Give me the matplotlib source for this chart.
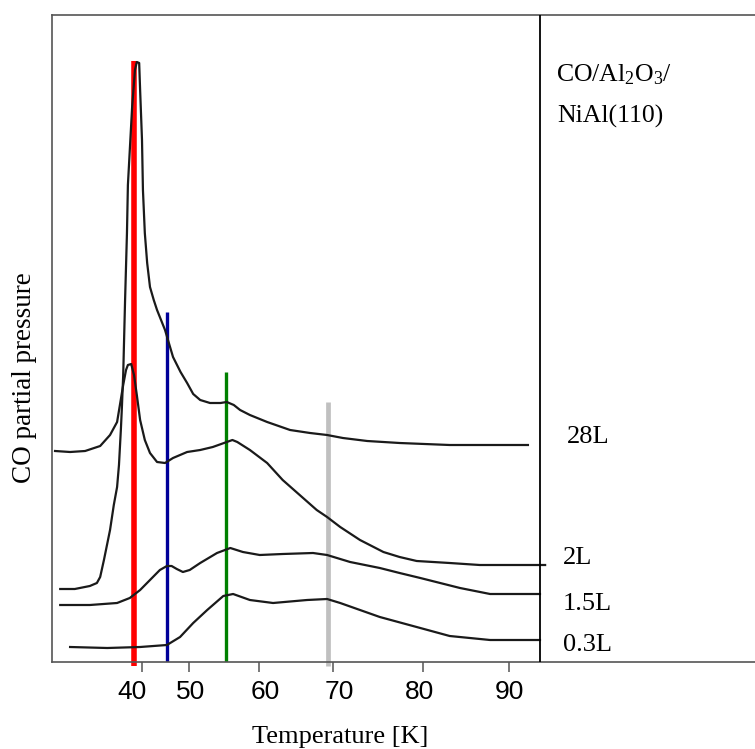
import numpy as np
import matplotlib
matplotlib.use("Agg")
import matplotlib.pyplot as plt
from matplotlib.transforms import ScaledTranslation

plt.rcParams["font.family"] = ["Liberation Serif", "DejaVu Serif"]
plt.rcParams["mathtext.fontset"] = "custom"
plt.rcParams["mathtext.rm"] = "Liberation Serif"
plt.rcParams["mathtext.it"] = "Liberation Serif:italic"

# ---- TPD traces (temperature in K, CO partial pressure in arb. units, offset per dose)
t_28L = [22.6, 25.7, 28.9, 30.4, 31.1, 31.9, 33.2, 34.0, 34.7, 35.1, 35.5, 35.7, 36.0,
         36.4, 36.8, 37.0, 37.9, 38.5, 38.9, 39.4, 39.6, 40.0, 40.2, 40.6, 41.1, 41.7,
         42.5, 43.2, 44.9, 46.6, 48.2, 49.6, 50.6, 51.6, 53.0, 54.5, 55.4, 56.4, 57.3,
         58.7, 61.1, 64.2, 66.9, 69.2, 71.1, 73.8, 77.4, 83.1, 92.2]
s_28L = [73, 73, 76, 79, 85, 102, 132, 157, 175, 197, 232, 252, 287,
         362, 429, 477, 555, 592, 600, 599, 572, 522, 472, 429, 399, 375,
         362, 352, 332, 305, 290, 279, 268, 262, 259, 259, 260, 257, 252,
         247, 240, 232, 229, 227, 224, 221, 219, 217, 217]

t_2L = [21.5, 24.7, 27.9, 31.1, 33.2, 34.7, 35.3, 36.0, 36.6, 37.0, 37.7, 38.3, 38.9,
        39.6, 40.6, 41.7, 43.2, 44.9, 46.6, 49.6, 51.6, 53.4, 55.4, 56.2, 56.9, 58.7,
        61.1, 63.2, 65.5, 67.8, 69.2, 70.8, 73.0, 75.6, 77.4, 79.3, 83.1, 86.6, 94.2]
s_2L = [211, 210, 211, 216, 227, 240, 257, 277, 292, 297, 298, 287, 267,
        242, 222, 209, 200, 199, 204, 210, 212, 215, 220, 222, 220, 212,
        199, 182, 167, 152, 145, 135, 122, 110, 105, 101, 99, 97, 97]

t_15L = [22.6, 28.9, 34.7, 37.4, 39.6, 41.7, 43.8, 45.3, 46.3, 47.4, 48.7, 50.1, 51.6,
         54.0, 55.9, 57.7, 60.1, 63.2, 67.3, 69.2, 71.9, 75.2, 77.4, 79.7, 84.3, 87.8,
         93.6]
s_15L = [57, 57, 59, 64, 72, 82, 92, 96, 96, 93, 90, 92, 99,
         109, 114, 110, 107, 108, 109, 107, 100, 94, 89, 84, 74, 68,
         68]

t_03L = [24.7, 32.6, 39.6, 45.3, 48.1, 50.6, 52.6, 54.9, 56.3, 58.7, 61.9, 66.5, 69.2,
         70.8, 75.2, 79.7, 83.1, 87.8, 93.6]
s_03L = [15, 14, 15, 17, 25, 39, 52, 66, 68, 62, 59, 62, 63,
         59, 45, 34, 26, 22, 22]

dose_labels = ["28L", "2L", "1.5L", "0.3L"]

# ---- desorption-feature markers
marker_temps = [38.4, 45.4, 55.3, 69.3]
marker_tops = [601, 350, 290, 260]
marker_colors = ["#ff0000", "#000099", "#008000", "#c0c0c0"]

# ---- temperature axis calibration (heating ramp is not linear in T)
tick_temps = [40, 50, 60, 70, 80, 90]
tick_pos = [142, 189, 259, 333, 423, 509]
knot_T = np.array([0.0] + tick_temps + [200.0])
knot_P = np.array([142 - 40 * 4.7] + tick_pos + [509 + 110 * 8.6])


def forward(t):
    return np.interp(t, knot_T, knot_P)


def inverse(p):
    return np.interp(p, knot_P, knot_T)


fig = plt.figure(figsize=(7.55, 7.49), dpi=100)
W, H = 755, 749
ax = fig.add_axes([52 / W, (H - 662) / H, (W - 52) / W, (662 - 15) / H])
ax.set_xscale("function", functions=(forward, inverse))
ax.set_xlim(inverse(52), inverse(755))
ax.set_ylim(0, 647)

# feature markers (behind the traces)
ax.vlines(marker_temps[0], -4, marker_tops[0], color=marker_colors[0], lw=4.0,
          clip_on=False, zorder=1, capstyle="butt")
ax.vlines(marker_temps[1], 0, marker_tops[1], color=marker_colors[1], lw=2.4,
          zorder=1, capstyle="butt")
ax.vlines(marker_temps[2], 0, marker_tops[2], color=marker_colors[2], lw=2.4,
          zorder=1, capstyle="butt")
ax.vlines(marker_temps[3], -4, marker_tops[3], color=marker_colors[3], lw=3.4,
          clip_on=False, zorder=1, capstyle="butt")

for t, s in [(t_28L, s_28L), (t_2L, s_2L), (t_15L, s_15L), (t_03L, s_03L)]:
    ax.plot(t, s, color="#1a1a1a", lw=1.6, zorder=2, solid_joinstyle="round")

# panel divider
ax.axvline(inverse(540), color="black", lw=1.3, zorder=3)

for side in ["left", "top", "bottom"]:
    ax.spines[side].set_color("#555555")
    ax.spines[side].set_linewidth(1.2)
ax.spines["right"].set_visible(False)

ax.set_yticks([])
ax.set_xticks(tick_temps)
ax.set_xticklabels([str(v) for v in tick_temps], family="Liberation Sans", fontsize=19)
ax.tick_params(axis="x", direction="out", length=7, width=1.1, color="#555555", pad=6)
ax.xaxis.set_minor_locator(matplotlib.ticker.NullLocator())

# small horizontal nudges of the tick labels (in pixels)
label_shift = [-10, 2, 6, 6, -3, 0]
for lbl, dx in zip(ax.get_xticklabels(), label_shift):
    lbl.set_transform(lbl.get_transform() + ScaledTranslation(dx / 100, 0, fig.dpi_scale_trans))

ax.set_xlabel("Temperature [K]", fontsize=19)
ax.xaxis.set_label_coords((340 - 52) / 703, -(737 - 662) / 647)
ax.xaxis.label.set_va("center")
ax.set_ylabel("CO partial pressure", fontsize=19.5)
ax.yaxis.set_label_coords((25 - 52) / 703, (662 - 378) / 647)
ax.yaxis.label.set_va("center")

# sample description
ax.text((556 - 52) / 703, (662 - 81) / 647, r"CO/Al$_2$O$_3$/", transform=ax.transAxes,
        fontsize=18.5, ha="left", va="baseline")
ax.text((557 - 52) / 703, (662 - 123) / 647, "NiAl(110)", transform=ax.transAxes,
        fontsize=18.5, ha="left", va="baseline")

# exposure labels
label_y = [437, 558, 604, 645]
label_x = [567, 563, 563, 563]
for lab, lx, ly in zip(dose_labels, label_x, label_y):
    ax.text((lx - 52) / 703, (662 - ly) / 647, lab, transform=ax.transAxes,
            fontsize=19, ha="left", va="center")

fig.savefig("out.png", dpi=100)
